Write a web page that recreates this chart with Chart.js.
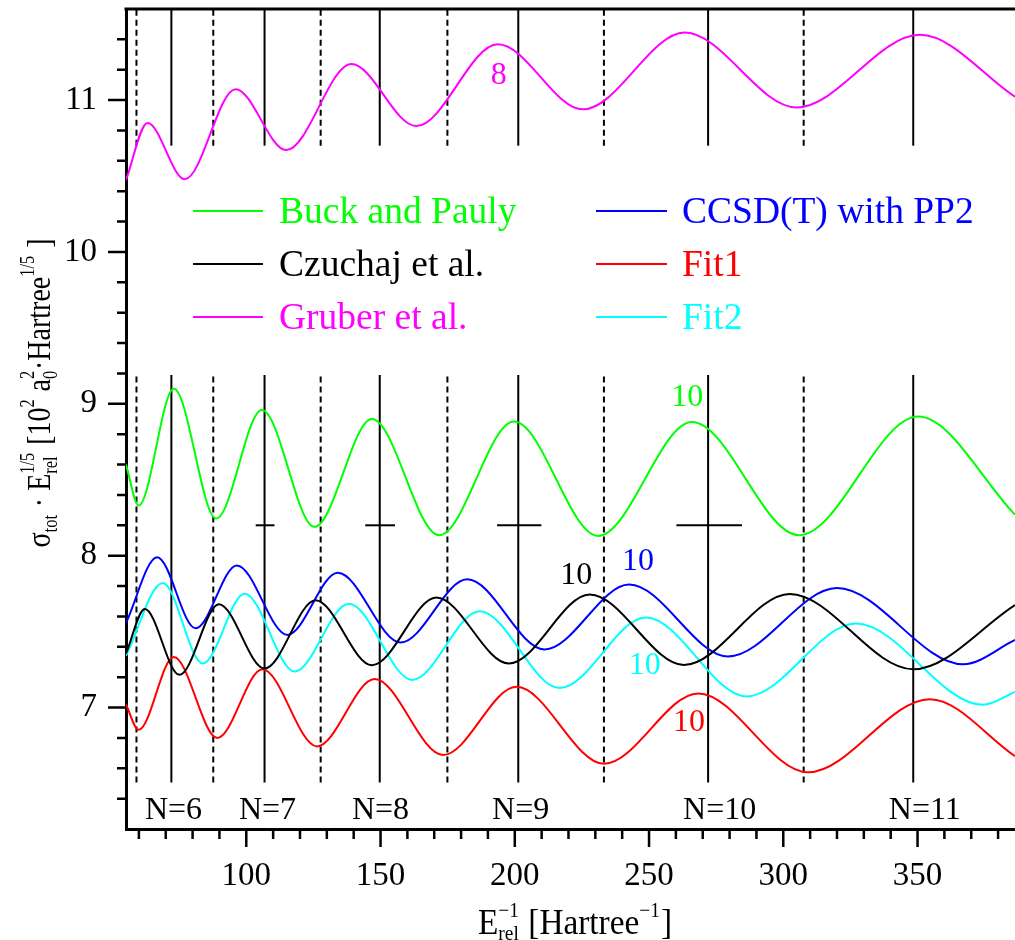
<!DOCTYPE html>
<html>
<head>
<meta charset="utf-8">
<title>sigma_tot E_rel^1/5</title>
<script src="https://cdn.jsdelivr.net/npm/chart.js@4.4.1/dist/chart.umd.min.js"></script>
<style>
  html, body { margin: 0; padding: 0; background: #fff; }
  #wrap { position: relative; width: 1015px; height: 940px; }
</style>
</head>
<body>
<div id="wrap"><canvas id="grafico"></canvas></div>
<script>
// ===============================
// DATA
// ===============================
const buckX = [55.2, 59.9, 73.0, 88.8, 105.8, 125.4, 146.8, 171.8, 199.7, 231.0, 266.0, 305.9, 350.2, 386.3];
const buckY = [8.60, 8.33, 9.10, 8.245, 8.96, 8.19, 8.90, 8.135, 8.883, 8.13, 8.88, 8.135, 8.916, 8.27];

const czuchajX = [55.2, 62.2, 75.1, 89.8, 106.8, 125.8, 146.8, 170.8, 197.8, 227.9, 263.0, 302.4, 348.4, 386.3];
const czuchajY = [7.355, 7.648, 7.215, 7.68, 7.257, 7.706, 7.279, 7.724, 7.29, 7.744, 7.28, 7.748, 7.252, 7.675];

const gruberX = [55.2, 63.2, 77.1, 96.0, 114.9, 139.1, 163.3, 193.7, 225.4, 263.3, 304.9, 350.9, 386.3];
const gruberY = [10.474, 10.85, 10.479, 11.072, 10.671, 11.237, 10.829, 11.368, 10.939, 11.445, 10.952, 11.43, 11.022];

const ccsdX = [55.2, 66.8, 81.1, 96.5, 115.3, 134.1, 157.5, 182.3, 211.1, 242.6, 279.4, 320.0, 367.0, 386.3];
const ccsdY = [7.556, 7.99, 7.522, 7.936, 7.478, 7.888, 7.428, 7.844, 7.382, 7.81, 7.336, 7.787, 7.285, 7.445];

const fit1X = [55.2, 59.9, 73.0, 89.2, 106.0, 126.3, 147.8, 173.3, 200.6, 233.2, 268.3, 309.2, 354.6, 386.3];
const fit1Y = [7.02, 6.853, 7.333, 6.80, 7.252, 6.744, 7.187, 6.687, 7.136, 6.63, 7.093, 6.573, 7.055, 6.68];

const fit2X = [55.2, 68.9, 83.8, 99.4, 118.0, 138.2, 161.8, 186.9, 216.7, 248.8, 286.3, 327.0, 374.4, 386.3];
const fit2Y = [7.34, 7.82, 7.29, 7.75, 7.237, 7.684, 7.182, 7.634, 7.128, 7.593, 7.073, 7.553, 7.018, 7.103];

// vertical markers (solid = maxima, dashed = minima)
const solidX  = [72.1, 106.8, 149.7, 201.3, 272.0, 348.4];
const dashedX = [59.1, 87.7, 127.7, 174.9, 233.2, 307.6];
const upperSpan = [10.70, 11.6];
const lowerSpan = [6.507, 9.19];

// error bars at y = 8.2
const barY = 8.2;
const barFrom = [103.5, 144.3, 193.4, 260.2];
const barTo   = [110.5, 155.4, 209.9, 284.6];

// N labels
const nLabels = ["N=6", "N=7", "N=8", "N=9", "N=10", "N=11"];
const nLabelX = [72.9, 107.9, 150.0, 202.2, 276.3, 352.7];
const nLabelY = 6.32;

// ===============================
// STYLE
// ===============================
const SERIF = '"Liberation Serif", "Times New Roman", serif';
const GREEN = "#00ff00";
const BLACK = "#000000";
const MAGENTA = "#ff00ff";
const BLUE = "#0000ff";
const RED = "#ff0000";
const CYAN = "#00ffff";

const series = [
  { label: "Buck and Pauly",    xs: buckX,    ys: buckY,    color: GREEN },
  { label: "Czuchaj et al.",    xs: czuchajX, ys: czuchajY, color: BLACK },
  { label: "Gruber et al.",     xs: gruberX,  ys: gruberY,  color: MAGENTA },
  { label: "CCSD(T) with PP2",  xs: ccsdX,    ys: ccsdY,    color: BLUE },
  { label: "Fit1",              xs: fit1X,    ys: fit1Y,    color: RED },
  { label: "Fit2",              xs: fit2X,    ys: fit2Y,    color: CYAN }
];

// curve notes: [text, x, y, color]
const notas = [
  ["8",  194.0, 11.164, MAGENTA],
  ["10", 264.2, 9.039, GREEN],
  ["10", 222.9, 7.866, BLACK],
  ["10", 245.9, 7.961, BLUE],
  ["10", 248.4, 7.275, CYAN],
  ["10", 264.9, 6.90, RED]
];

// ===============================
// DATASETS
// ===============================
function puntos(xs, ys) {
  return xs.map((x, i) => ({ x, y: ys[i] }));
}

function segmento(x1, y1, x2, y2, dash) {
  return {
    data: [{ x: x1, y: y1 }, { x: x2, y: y2 }],
    borderColor: BLACK,
    borderWidth: 2,
    borderDash: dash || [],
    pointRadius: 0,
    showLine: true,
    order: 10
  };
}

function construirDatasets() {
  const ds = [];

  series.forEach(s => {
    ds.push({
      label: s.label,
      data: puntos(s.xs, s.ys),
      borderColor: s.color,
      borderWidth: 2,
      pointRadius: 0,
      showLine: true,
      cubicInterpolationMode: "monotone",
      order: 1
    });
  });

  [upperSpan, lowerSpan].forEach(span => {
    solidX.forEach(x => ds.push(segmento(x, span[0], x, span[1])));
    dashedX.forEach(x => ds.push(segmento(x, span[0], x, span[1], [6, 4])));
  });

  barFrom.forEach((x, i) => ds.push(segmento(x, barY, barTo[i], barY)));

  return ds;
}

// ===============================
// TEXT HELPERS (sub / superscripts)
// ===============================
function anchoRico(ctx, parts, big, small) {
  let w = 0;
  parts.forEach(p => {
    if (p.t !== undefined) {
      ctx.font = big + "px " + SERIF;
      w += ctx.measureText(p.t).width;
    } else {
      ctx.font = small + "px " + SERIF;
      const a = p.sup ? ctx.measureText(p.sup).width : 0;
      const b = p.sub ? ctx.measureText(p.sub).width : 0;
      w += Math.max(a, b) + 1;
    }
  });
  return w;
}

function dibujarRico(ctx, x0, y0, parts, big, small, supDy, subDy) {
  let x = x0;
  ctx.textAlign = "left";
  ctx.textBaseline = "alphabetic";
  parts.forEach(p => {
    if (p.t !== undefined) {
      ctx.font = big + "px " + SERIF;
      ctx.fillText(p.t, x, y0);
      x += ctx.measureText(p.t).width;
    } else {
      ctx.font = small + "px " + SERIF;
      const a = p.sup ? ctx.measureText(p.sup).width : 0;
      const b = p.sub ? ctx.measureText(p.sub).width : 0;
      if (p.sup) ctx.fillText(p.sup, x, y0 + supDy);
      if (p.sub) ctx.fillText(p.sub, x, y0 + subDy);
      x += Math.max(a, b) + 1;
    }
  });
}

// draws centred at (cx, cy), squeezed to a target length
function tituloAjustado(ctx, parts, cx, cy, ang, largo, big, small, supDy, subDy) {
  const w = anchoRico(ctx, parts, big, small);
  const k = Math.min(1, largo / w);
  ctx.save();
  ctx.translate(cx, cy);
  ctx.rotate(ang);
  ctx.scale(k, 1);
  dibujarRico(ctx, -w / 2, 0, parts, big, small, supDy, subDy);
  ctx.restore();
}

// ===============================
// PLUGIN: ticks, frame, titles, legend, notes
// ===============================
const decorado = {
  id: "decorado",
  afterDraw(chart) {
    const { ctx, chartArea: a, scales: { x, y } } = chart;
    ctx.save();
    ctx.strokeStyle = BLACK;
    ctx.fillStyle = BLACK;

    // tick marks
    ctx.lineWidth = 2.5;
    ctx.beginPath();
    for (let v = 60; v <= 380; v += 10) {
      const px = x.getPixelForValue(v);
      const len = v % 50 === 0 ? 18 : 10;
      ctx.moveTo(px, a.bottom);
      ctx.lineTo(px, a.bottom + len);
    }
    for (let k = 32; k <= 57; k++) {
      const py = y.getPixelForValue(k / 5);
      const len = k % 5 === 0 ? 18 : 9;
      ctx.moveTo(a.left, py);
      ctx.lineTo(a.left - len, py);
    }
    ctx.stroke();

    // top frame
    ctx.lineWidth = 3;
    ctx.beginPath();
    ctx.moveTo(a.left - 1.5, a.top);
    ctx.lineTo(a.right, a.top);
    ctx.stroke();

    // x title
    const xt = [
      { t: "E" }, { sup: "\u22121", sub: "rel" },
      { t: " [Hartree" }, { sup: "\u22121" }, { t: "]" }
    ];
    tituloAjustado(ctx, xt, 575, 934, 0, 194, 36, 21, -17, 6);

    // y title
    const yt = [
      { t: "\u03c3" }, { sub: "tot" }, { t: " \u00b7 E" }, { sup: "1/5", sub: "rel" },
      { t: " [10" }, { sup: "2" }, { t: " a" }, { sup: "2", sub: "0" },
      { t: "\u00b7Hartree" }, { sup: "1/5" }, { t: " ]" }
    ];
    tituloAjustado(ctx, yt, 50, 393, -Math.PI / 2, 309, 34, 20, -16, 7);

    // legend (two columns inside the plot)
    const cols = [[193, 263, 279], [596, 667, 682]];
    const rows = [211, 264, 317];
    series.forEach((s, i) => {
      const c = cols[Math.floor(i / 3)];
      const r = rows[i % 3];
      ctx.strokeStyle = s.color;
      ctx.lineWidth = 2;
      ctx.beginPath();
      ctx.moveTo(c[0], r);
      ctx.lineTo(c[1], r);
      ctx.stroke();
      ctx.fillStyle = s.color;
      ctx.font = "37.5px " + SERIF;
      ctx.textAlign = "left";
      ctx.textBaseline = "alphabetic";
      ctx.fillText(s.label, c[2], r + 12);
    });

    // curve notes
    ctx.textAlign = "center";
    ctx.textBaseline = "middle";
    ctx.font = "32px " + SERIF;
    notas.forEach(n => {
      ctx.fillStyle = n[3];
      ctx.fillText(n[0], x.getPixelForValue(n[1]), y.getPixelForValue(n[2]));
    });

    // N labels
    ctx.fillStyle = BLACK;
    nLabels.forEach((t, i) => {
      ctx.fillText(t, x.getPixelForValue(nLabelX[i]), y.getPixelForValue(nLabelY));
    });

    ctx.restore();
  }
};

// ===============================
// CHART
// ===============================
document.addEventListener("DOMContentLoaded", init);

function init() {
  const canvas = document.getElementById("grafico");
  if (!canvas || typeof Chart === "undefined") return;

  new Chart(canvas, {
    type: "scatter",
    data: { datasets: construirDatasets() },
    plugins: [decorado],
    options: {
      responsive: true,
      maintainAspectRatio: false,
      animation: false,
      layout: { padding: { top: 9, right: 0, left: 0, bottom: 0 } },
      plugins: {
        legend: { display: false },
        tooltip: { enabled: false }
      },
      scales: {
        x: {
          type: "linear",
          min: 55.2,
          max: 386.3,
          afterFit: s => {
            s.height = 111;
            s.paddingLeft = 0;
            s.paddingRight = 0;
          },
          grid: { display: false, drawTicks: false },
          border: { display: true, color: BLACK, width: 3 },
          ticks: {
            stepSize: 50,
            includeBounds: false,
            autoSkip: false,
            maxRotation: 0,
            padding: 28,
            color: BLACK,
            font: { family: SERIF, size: 33 }
          }
        },
        y: {
          type: "linear",
          min: 6.2,
          max: 11.6,
          afterFit: s => {
            s.width = 126;
            s.paddingTop = 0;
            s.paddingBottom = 0;
          },
          grid: { display: false, drawTicks: false },
          border: { display: true, color: BLACK, width: 3 },
          ticks: {
            stepSize: 1,
            includeBounds: false,
            autoSkip: false,
            padding: 29,
            color: BLACK,
            font: { family: SERIF, size: 33 }
          }
        }
      }
    }
  });
}
</script>
</body>
</html>
